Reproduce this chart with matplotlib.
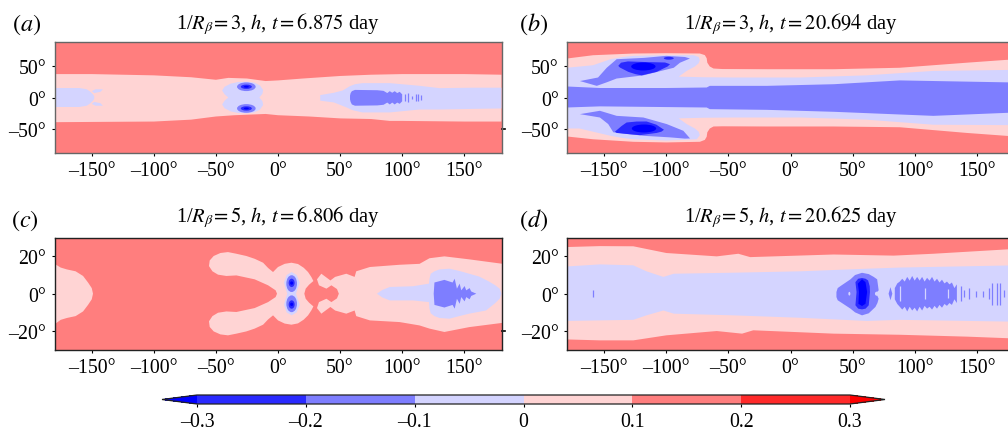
import matplotlib
matplotlib.use("Agg")
import matplotlib.pyplot as plt
from matplotlib.colors import BoundaryNorm, ListedColormap
from matplotlib.cm import ScalarMappable
from matplotlib.patches import Ellipse

plt.rcParams['font.family'] = ['Liberation Serif', 'DejaVu Serif']
plt.rcParams['mathtext.fontset'] = 'stix'

# ---------- levels and values ----------
levels = [-0.3, -0.2, -0.1, 0, 0.1, 0.2, 0.3]
level_labels = ['\u20130.3', '\u20130.2', '\u20130.1', '0', '0.1', '0.2', '0.3']
V_RED, V_PINK, V_LAV, V_MID, V_DEEP, V_CORE = 0.15, 0.05, -0.05, -0.15, -0.25, -0.35

lon_ticks = [-150, -100, -50, 0, 50, 100, 150]
lon_labels = ['\u2013150\u00b0', '\u2013100\u00b0', '\u201350\u00b0', '0\u00b0', '50\u00b0', '100\u00b0', '150\u00b0']
lat_ticks_ab = [-50, 0, 50]
lat_labels_ab = ['\u201350\u00b0', '0\u00b0', '50\u00b0']
lat_ticks_cd = [-20, 0, 20]
lat_labels_cd = ['\u201320\u00b0', '0\u00b0', '20\u00b0']
titles = [r'1/$R_{\beta}\!=3$, $h$, $t=6.875$ day',
          r'1/$R_{\beta}\!=3$, $h$, $t=20.694$ day',
          r'1/$R_{\beta}\!=5$, $h$, $t=6.806$ day',
          r'1/$R_{\beta}\!=5$, $h$, $t=20.625$ day']
panel_tags = ['$(a)$', '$(b)$', '$(c)$', '$(d)$']

# ---------- panel a ----------
a_pink_top_lon = [-180, -150, -100, -70, -50, -40, -25, -10, 0, 20, 50, 75, 100, 150, 180]
a_pink_top_lat = [37, 37, 35, 32, 28, 31, 30, 26, 27, 30, 34, 36, 37, 37, 36]
a_pink_bot_lon = [-180, -100, -70, -50, -35, -10, 0, 25, 50, 75, 90, 100, 150, 180]
a_pink_bot_lat = [-39, -38, -35, -30, -28, -26, -28, -30, -33, -34, -37, -37, -38, -38]
a_lav_west_lon = [-179, -160, -154, -151, -149, -148, -148, -149, -151, -154, -160, -179]
a_lav_west_lat = [15, 15, 13, 9, 5, 2, -2, -5, -9, -13, -15, -15]
a_prong_lon = [-150, -147, -141, -143, -148]
a_prong_lat = [10, 13, 13, 9, 7]
a_lav_mid_lon = [-40, -43, -45, -43, -38, -32, -25, -19, -14.5, -12, -12.5, -15]
a_lav_mid_lat = [0, 5, 11, 17, 22, 24.5, 25, 23.5, 19, 12, 6, 0]
a_lav_east_lon = [34, 45, 52, 58, 62, 68, 90, 114, 130, 157, 180, 180, 157, 130, 114, 90, 68, 60, 55, 45, 34]
a_lav_east_lat = [3.8, 7.5, 11, 18, 21, 22.7, 22.7, 18.5, 14.8, 15.5, 15.5, -17.3, -18, -19, -19, -23.6, -23.6, -20, -15.5, -7.8, -5]
a_mid_lon = [58, 58.5, 59.5, 62, 80, 85, 88, 90, 92, 94, 96, 98, 100, 100, 98, 96, 94, 92, 90, 88, 85, 80, 62, 59.5, 58.5, 58]
a_mid_lat = [3, 7, 10, 12, 11.5, 10.5, 7, 10, 7.5, 10, 7, 9, 5, -6, -10, -8, -11, -8, -11, -8, -11.5, -12.5, -13, -11, -7, -3]
a_stripe_lon = [102, 105, 108, 111, 113, 115]
a_stripe_half = [6, 7, 3, 6, 6, 4]
a_mid_blobs = [(-25.5, 17, 15, 13.7), (-25.5, -17.3, 15, 13.7)]
a_deep_blobs = [(-25.5, 17, 8.9, 6.8), (-25.5, -17.3, 8.9, 6.8)]
a_core_blobs = [(-25.5, 17, 4, 3), (-25.5, -17.3, 4, 3)]

# ---------- panel b ----------
b_pink_top_lon = [-180, -159, -126.6, -100, -73, -69, -67.5, -67, -65, -62, -55, -19, 35, 88, 142, 174, 181]
b_pink_top_lat = [61.6, 66.8, 69.5, 70, 69.5, 67, 62, 55, 49, 45.8, 45, 44.7, 44.7, 47, 55, 59.5, 60]
b_pink_bot_lon = [-180, -159, -126.6, -100, -73, -69, -67.5, -67, -65, -62, -55, -19, 35, 88, 142, 181]
b_pink_bot_lat = [-61.6, -66, -70, -71, -70, -67, -62, -55, -49, -45.8, -45.5, -45.8, -45.8, -47, -56, -61.6]
b_lav_lon = [-180, -159, -145, -135, -126.6, -100, -78, -74, -73, -74, -77, -83.6, -90, -70, -46, 8, 61, 115, 181,
             181, 115, 61, 8, -46, -70, -90, -83.6, -77, -74, -73, -75.5, -100, -126.6, -135, -145, -170, -180]
b_lav_lat = [47, 51, 60.5, 64, 65.8, 66.8, 66.8, 64, 59, 54, 49, 42, 33, 32, 31.6, 31.6, 35, 42, 43.7,
             -43.7, -43, -35, -31.6, -31.6, -32, -33, -42, -49, -54, -59.5, -66, -68, -66, -64, -60.5, -49, -49]
b_mid_top_lon = [-180, -153.5, -100, -67.5, -65, -19, 35, 88, 181]
b_mid_top_lat = [17.4, 15, 15, 15.8, 18.4, 18.4, 21, 27, 23.7]
b_mid_bot_lon = [-180, -153.5, -67.5, -65, -19, 35, 115, 181]
b_mid_bot_lat = [-15.8, -14, -15.8, -18.4, -19.5, -22.6, -29, -23.7]
b_mid_n_lon = [-169.6, -156, -148, -140, -118.5, -94, -89, -81, -85, -100, -118, -140, -148, -155]
b_mid_n_lat = [26, 18.4, 24, 30, 35, 47, 55, 61.6, 64, 65.8, 62.6, 60.5, 47, 31.6]
b_mid_s_lon = [-169.6, -153.5, -140, -118.5, -99.7, -86.3, -80.9, -85, -97, -118.5, -142.7, -146.8, -153.5]
b_mid_s_lat = [-26.3, -21, -29, -31.6, -42, -52.6, -64.7, -65, -63, -60.5, -55, -42, -31.6]
b_deep_n_lon = [-138.7, -136.5, -131, -115.9, -101, -97, -99, -102.4, -107.8, -119.9, -125, -130.6, -137.4]
b_deep_n_lat = [50, 55, 57, 56, 55.3, 52.6, 49, 45.8, 40.5, 35, 37, 40.5, 47.4]
b_deep_s_lon = [-141.4, -136, -132, -124, -115.9, -108, -101.9, -104, -107.8, -121.2, -130, -140]
b_deep_s_lat = [-54, -45, -39.5, -38, -37.9, -43, -51, -54, -56, -59.5, -58, -56]
b_deep_blobs = [(-98, 62, 8, 4.5)]
b_core_blobs = [(-118.5, 49, 19.6, 12.6), (-118, -49, 19.6, 12.6)]

# ---------- panel c ----------
c_pink_west_lon = [-180, -175, -170, -163, -157, -153, -150, -149, -150, -153, -157, -163, -170, -175, -180]
c_pink_west_lat = [16, 14, 13, 12, 9.5, 6, 3, 0, -3, -6, -9.5, -12, -13, -14, -16.4]
c_wing_lon = [-0.8, -1.9, -8, -18.8, -33.5, -41.6, -48.3, -52.8, -55.6, -55, -51.8, -46.4, -40.3, -33.5, -25.5, -18.8,
              -12, -8, -4, 0, 5.4, 10.8, 16.1, 20.7, 24.2, 26.9, 28.5, 25, 22.3, 21.2]
c_wing_lat = [0, 1.8, 4.5, 7.7, 9.8, 9.5, 10.2, 12, 14.8, 17.8, 20.2, 21.8, 22.3, 21.4, 20.2, 18.7,
              16.6, 13.8, 11.6, 14.3, 16, 16.6, 15.9, 13.9, 11.6, 8.9, 6.8, 4.8, 2.7, 0]
c_east_top_lon = [49, 47.5, 43, 39, 33, 31.4, 34.9, 42.2, 46, 55, 61.7, 63, 74, 98, 114, 122, 134, 154, 181]
c_east_top_lat = [0, 2.5, 4.5, 2.7, 4.5, 7.7, 10.7, 7.1, 9, 10.7, 9, 12, 14.3, 15.5, 16, 19, 20, 18.4, 16]
c_east_bot_lon = [181, 154, 134, 122, 114, 98, 74, 63, 61.7, 55, 46, 42.2, 34.9, 31.4, 33, 39, 43, 47.5]
c_east_bot_lat = [-15.6, -17.9, -20.5, -18.7, -17, -15.2, -14.3, -12, -9, -10.7, -9, -7.1, -10.7, -7.7, -4.5, -2.7, -4.5, -2.5]
c_lav_east_lon = [79.7, 84, 90, 108.7, 121.6, 122, 123, 126, 130, 138, 146, 154, 162, 170, 175, 178.5, 180,
                  178.5, 175, 167.5, 154, 146, 138, 130, 126, 123, 122, 121.6, 108.7, 90, 84]
c_lav_east_lat = [0, 2, 3.6, 4, 5.4, 8, 10.7, 12, 13, 13.4, 12.2, 10.7, 9.2, 6.5, 4.5, 2.7, 0,
                  -2.7, -5, -9, -10.7, -12, -13.4, -13, -12, -10.5, -8, -4.5, -3.6, -3.6, -2]
c_mid_lon = [125.4, 126, 134, 140.6, 142.3, 144.1, 146.3, 147.6, 150.3, 151.6, 154.3, 155.6, 159.7,
             155.6, 154.3, 151.6, 150.3, 147.6, 146.3, 144.1, 142.3, 140.6, 134, 126, 125.4]
c_mid_lat = [0, 6, 7.4, 6, 8, 2.7, 5.4, 1.8, 4.1, 1.8, 3, 1.2, 0,
             -1.2, -3, -1.8, -4.1, -1.8, -5.4, -2.7, -8, -6, -7.4, -6, 0]
c_lav_mid_lon = [11, 15, 17.5, 16, 14.5, 16, 17.5, 15, 11, 7, 4.9, 6, 7.5, 6, 4.9, 7]
c_lav_mid_lat = [11.6, 10, 6, 3, 0, -3, -6, -10, -11.6, -10, -6, -3, 0, 3, 6, 10]
c_mid_blobs = [(11, 5.4, 8.6, 9), (11, -5.4, 8.6, 9)]
c_deep_blobs = [(11, 5.8, 4.8, 4.5), (11, -5.8, 4.8, 4.5)]
c_core_blobs = [(11, 5.7, 2.5, 1.8), (11, -5.7, 2.5, 1.8)]

# ---------- panel d ----------
d_pink_top_lon = [-180, -153.5, -126.6, -100, -59.4, -42, -32.5, 34.7, 83, 115, 181]
d_pink_top_lat = [25, 25.5, 25.4, 21.8, 20, 21.4, 19.6, 21, 20.4, 21.4, 24]
d_pink_bot_lon = [-180, -153.5, -126.6, -100, -59.4, -39, -30, 34.7, 88, 142, 181]
d_pink_bot_lat = [-24.5, -25, -25, -22.3, -20, -21.4, -19.6, -21.4, -22, -23, -24]
d_lav_top_lon = [-180, -153.5, -126.6, -116, -102.4, -94, -46, 8, 61.6, 88, 181]
d_lav_top_lat = [14.6, 15.7, 15.2, 12, 9, 10.7, 11.25, 12, 13.4, 14, 15.2]
d_lav_bot_lon = [-180, -153.5, -126.6, -116, -102.4, -94, -46, 8, 61.6, 88, 181]
d_lav_bot_lat = [-14.6, -14.3, -14, -11.6, -9, -10.7, -11.6, -12.9, -14.6, -14, -15]
d_mid_lon = [37, 38, 40.3, 48.3, 52, 57.6, 63, 67, 69.8, 71, 69, 71, 70, 68.4, 63, 57.6, 52, 48.3, 40.3, 38, 37]
d_mid_lat = [0.9, 3, 4.1, 7.7, 10, 11.2, 10.5, 9, 7.7, 1.8, 0.3, -2.7, -5, -7.1, -10.5, -11.6, -10, -8, -4.5, -3.5, -1.8]
d_hole_blobs = [(47.4, 0, 1.6, 2), (69.5, 0, 3, 2.2)]
d_deep_lon = [57.6, 60.5, 62.5, 63.8, 64, 63, 60.5, 57.6, 54.5, 52.3, 53.2, 52.3, 54.5]
d_deep_lat = [8.4, 8, 7.1, 4, 0.9, -6.2, -8, -8.4, -8, -6.2, 0.9, 6.2, 8]
d_core_lon = [57.6, 60.4, 61.7, 60.4, 57.6, 54.7, 55.2, 54.2]
d_core_lat = [7.7, 6.2, 0.9, -5.4, -6.6, -5.4, 0.9, 5.4]
d_wave_lon = [84, 86, 88, 90, 92, 94, 96, 98, 100, 102, 104, 106, 108, 110, 112, 114, 116, 118, 120, 122, 124, 126, 128, 130, 132, 134]
d_wave_top = [3, 5.5, 6.5, 8, 6.5, 9, 7, 9.5, 7, 9, 7, 9, 6.5, 8.5, 7, 9, 6.5, 8, 6, 7.5, 5.5, 6.5, 5, 6, 3, 5]
d_wave_bot = [-3, -5.5, -7, -8.5, -7, -9.5, -7, -9, -7.5, -9.5, -7, -9, -6.5, -8, -7, -8.5, -6.5, -8, -6, -7.5, -5.5, -6.5, -5, -6, -3, -5]
d_lens_lon = [79, 80.5, 82, 80.5]
d_lens_lat = [0, 3.5, 0, -3.5]
d_gap_lon = [88, 108, 127]
d_gap_half = [4, 3, 2.5]
d_stripe_lon = [137, 140, 144, 149, 155, 160, 162, 166, 169, 172, -159.4]
d_stripe_half = [4, 2, 3, 1.5, 1.5, 3, 6, 6, 6, 2, 2]

# ---------- colour mapping ----------
bwr = plt.get_cmap('bwr')
midpoints = [(l + h) / 2 for l, h in zip(levels[:-1], levels[1:])]
cmap = ListedColormap([bwr((m - levels[0]) / (levels[-1] - levels[0])) for m in midpoints])
cmap.set_under('#0000ff')
cmap.set_over('#ff0000')
norm = BoundaryNorm(levels, cmap.N)


def colour(v):
    return cmap(norm(v))


def poly(ax, lon, lat, v):
    ax.fill(lon, lat, color=colour(v), lw=0)


def band(ax, tlon, tlat, blon, blat, v):
    ax.fill(list(tlon) + list(blon)[::-1], list(tlat) + list(blat)[::-1], color=colour(v), lw=0)


def blobs(ax, items, v):
    for x, y, w, h in items:
        ax.add_patch(Ellipse((x, y), w, h, color=colour(v), lw=0))


def stripes(ax, lons, halves, v, lw=1.0):
    ax.vlines(lons, [-h for h in halves], halves, color=colour(v), lw=lw)


W, H = 1008, 431
fig = plt.figure(figsize=(W / 100, H / 100), dpi=100)


def px_axes(l, t, r, b):
    return fig.add_axes([l / W, 1 - b / H, (r - l) / W, (b - t) / H])


ax_a = px_axes(54.5, 43, 501.5, 154)
ax_b = px_axes(567, 43, 1014, 154)
ax_c = px_axes(54.5, 238.7, 501.5, 350.7)
ax_d = px_axes(567, 238.7, 1014, 350.7)

# panel a
band(ax_a, a_pink_top_lon, a_pink_top_lat, a_pink_bot_lon, a_pink_bot_lat, V_PINK)
poly(ax_a, a_lav_west_lon, a_lav_west_lat, V_LAV)
poly(ax_a, a_prong_lon, a_prong_lat, V_LAV)
poly(ax_a, a_prong_lon, [-y for y in a_prong_lat], V_LAV)
band(ax_a, a_lav_mid_lon, a_lav_mid_lat, a_lav_mid_lon, [-y for y in a_lav_mid_lat], V_LAV)
poly(ax_a, a_lav_east_lon, a_lav_east_lat, V_LAV)
poly(ax_a, a_mid_lon, a_mid_lat, V_MID)
stripes(ax_a, a_stripe_lon, a_stripe_half, V_MID, lw=0.9)
blobs(ax_a, a_mid_blobs, V_MID)
blobs(ax_a, a_deep_blobs, V_DEEP)
blobs(ax_a, a_core_blobs, V_CORE)

# panel b
band(ax_b, b_pink_top_lon, b_pink_top_lat, b_pink_bot_lon, b_pink_bot_lat, V_PINK)
poly(ax_b, b_lav_lon, b_lav_lat, V_LAV)
band(ax_b, b_mid_top_lon, b_mid_top_lat, b_mid_bot_lon, b_mid_bot_lat, V_MID)
poly(ax_b, b_mid_n_lon, b_mid_n_lat, V_MID)
poly(ax_b, b_mid_s_lon, b_mid_s_lat, V_MID)
poly(ax_b, b_deep_n_lon, b_deep_n_lat, V_DEEP)
poly(ax_b, b_deep_s_lon, b_deep_s_lat, V_DEEP)
blobs(ax_b, b_deep_blobs, V_DEEP)
blobs(ax_b, b_core_blobs, V_CORE)

# panel c
poly(ax_c, c_pink_west_lon, c_pink_west_lat, V_PINK)
band(ax_c, c_wing_lon, c_wing_lat, c_wing_lon, [-y for y in c_wing_lat], V_PINK)
poly(ax_c, c_east_top_lon + c_east_bot_lon, c_east_top_lat + c_east_bot_lat, V_PINK)
poly(ax_c, c_lav_east_lon, c_lav_east_lat, V_LAV)
poly(ax_c, c_mid_lon, c_mid_lat, V_MID)
poly(ax_c, c_lav_mid_lon, c_lav_mid_lat, V_LAV)
blobs(ax_c, c_mid_blobs, V_MID)
blobs(ax_c, c_deep_blobs, V_DEEP)
blobs(ax_c, c_core_blobs, V_CORE)

# panel d
band(ax_d, d_pink_top_lon, d_pink_top_lat, d_pink_bot_lon, d_pink_bot_lat, V_PINK)
band(ax_d, d_lav_top_lon, d_lav_top_lat, d_lav_bot_lon, d_lav_bot_lat, V_LAV)
poly(ax_d, d_mid_lon, d_mid_lat, V_MID)
blobs(ax_d, d_hole_blobs, V_LAV)
poly(ax_d, d_deep_lon, d_deep_lat, V_DEEP)
poly(ax_d, d_core_lon, d_core_lat, V_CORE)
band(ax_d, d_wave_lon, d_wave_top, d_wave_lon, d_wave_bot, V_MID)
poly(ax_d, d_lens_lon, d_lens_lat, V_MID)
stripes(ax_d, d_gap_lon, d_gap_half, V_LAV, lw=0.9)
stripes(ax_d, d_stripe_lon, d_stripe_half, V_MID, lw=0.9)

# axes furniture
spine_cols = ['#666666', '#666666', '#222222', '#222222']
pads = [10, 10, 12, 12]
for i, ax in enumerate([ax_a, ax_b, ax_c, ax_d]):
    ax.set_facecolor(colour(V_RED))
    ax.set_xlim(-180, 180)
    ax.set_xticks(lon_ticks, lon_labels)
    if i < 2:
        ax.set_ylim(-87.7, 87.7)
        ax.set_yticks(lat_ticks_ab, lat_labels_ab)
    else:
        ax.set_ylim(-30, 30)
        ax.set_yticks(lat_ticks_cd, lat_labels_cd)
    ax.tick_params(labelsize=14.3, length=2.5, width=0.8, pad=3.5)
    for s in ax.spines.values():
        s.set_color(spine_cols[i])
        s.set_linewidth(1.0)
    ax.set_title(titles[i], fontsize=14.8, pad=pads[i])

# the stray tick marks on the right of the left-hand panels
ax_a.plot([1, 1.008], [-50, -50], color='k', lw=1.2, clip_on=False, transform=ax_a.get_yaxis_transform())
ax_c.plot([1, 1.008], [-20, -20], color='k', lw=1.2, clip_on=False, transform=ax_c.get_yaxis_transform())

tag_xy = [(12, 31), (519, 31), (11, 227), (519, 227)]
for tag, (x, y) in zip(panel_tags, tag_xy):
    fig.text(x / W, 1 - y / H, tag, fontsize=17.5, ha='left', va='baseline')

# colour bar (the axes span includes both end triangles)
cax = px_axes(162, 396, 885, 405)
cb = fig.colorbar(ScalarMappable(norm=norm, cmap=cmap), cax=cax, orientation='horizontal',
                  extend='both', extendfrac=0.0536, spacing='proportional', ticks=levels)
cb.set_ticklabels(level_labels)
cb.ax.tick_params(labelsize=14.3, length=2.5, width=0.8, pad=3.5)
cb.ax.minorticks_off()
cb.outline.set_edgecolor('#222222')
cb.outline.set_linewidth(0.9)

fig.savefig('out.png', dpi=100)
